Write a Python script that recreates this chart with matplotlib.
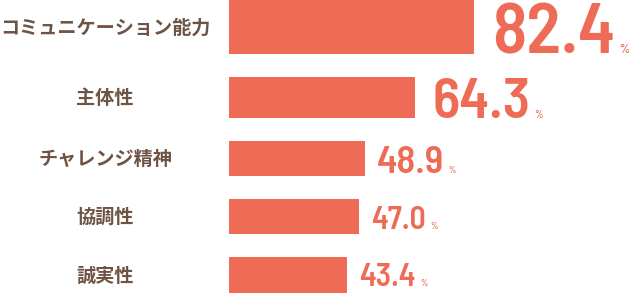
import matplotlib
matplotlib.use("Agg")
import matplotlib.pyplot as plt
import matplotlib.transforms as mtransforms

plt.rcParams['font.family'] = ['Noto Sans CJK JP', 'DejaVu Sans']

categories = ["コミュニケーション能力", "主体性", "チャレンジ精神", "協調性", "誠実性"]
values = [82.4, 64.3, 48.9, 47.0, 43.4]

# layout, in pixels of the 629x293 canvas
W, H = 629, 293
row_centers = [27, 97.5, 158.5, 216.5, 275]
bar_heights = [54, 41, 35, 35, 36]
baselines = [53, 118, 173, 229, 286]
num_sizes = [51, 41, 28, 23, 23]
pct_sizes = [9, 7.5, 6.5, 6.5, 6.5]
num_gap = [18, 17, 12, 12, 12]

bar_color = "#EE6B56"
label_color = "#6E5444"
num_font = ['Barlow Semi Condensed', 'Roboto Condensed', 'DejaVu Sans']

fig = plt.figure(figsize=(W / 100, H / 100), dpi=100)
ax = fig.add_axes([229 / W, 0, 1 - 229 / W, 1])
ax.set_xlim(7, 7 + (W - 229) / 3.253)
ax.set_ylim(H, 0)
ax.axis("off")

ax.barh(row_centers, values, height=bar_heights, color=bar_color)

for v, b, ns, ps, g in zip(values, baselines, num_sizes, pct_sizes, num_gap):
    t = ax.annotate(f"{v:.1f}", xy=(v, b), xytext=(g * 0.72, 0), textcoords="offset points",
                    ha="left", va="baseline", fontsize=ns, fontweight=600,
                    family=num_font, color=bar_color)
    ax.annotate("%", xy=(1, b), xycoords=(t, "data"), xytext=(3, 0), textcoords="offset points",
                ha="left", va="baseline", fontsize=ps, fontweight=500,
                family=num_font, color=bar_color)

trans = mtransforms.blended_transform_factory(fig.transFigure, ax.transData)
for yc, cat in zip(row_centers, categories):
    ax.text(105 / W, yc + 1, cat, transform=trans, ha="center", va="center",
            fontsize=13.8, fontweight="bold", color=label_color, clip_on=False)

fig.savefig("out.png", dpi=100)
